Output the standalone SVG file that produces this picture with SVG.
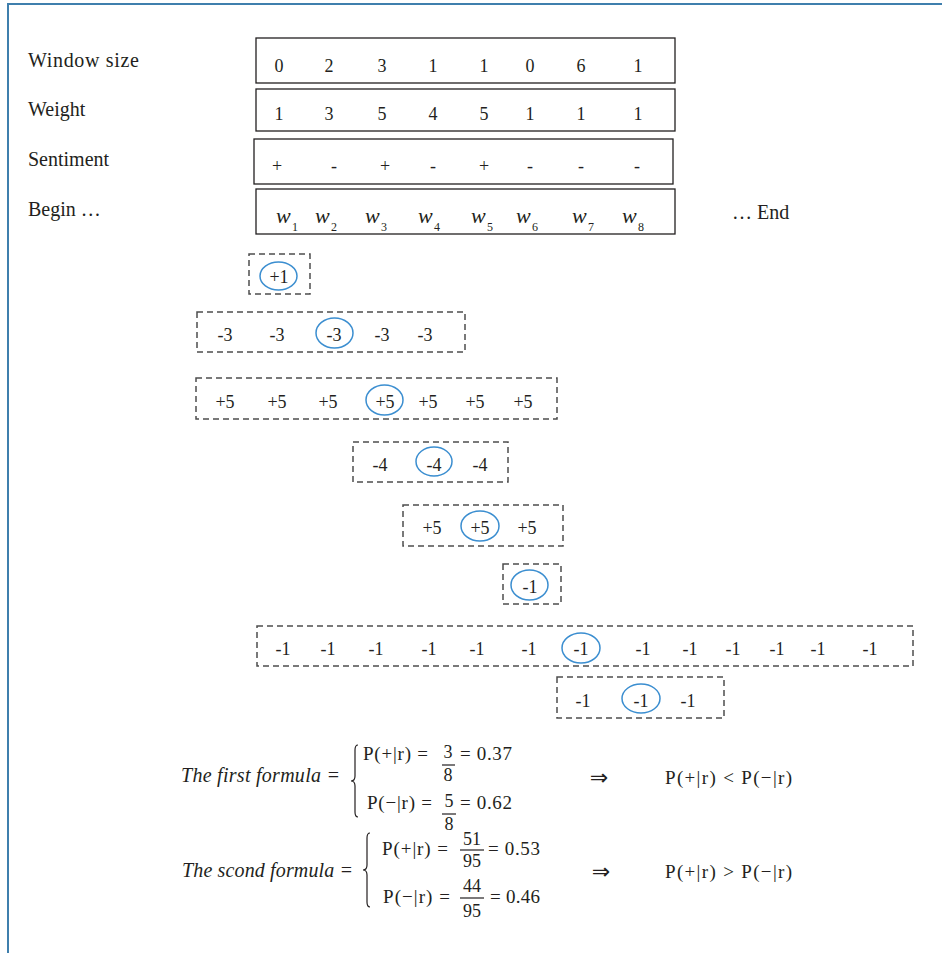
<svg xmlns="http://www.w3.org/2000/svg" width="942" height="953" viewBox="0 0 942 953">
  <style>
    text { font-family: "Liberation Serif", "DejaVu Serif", serif; fill: #231f20; }
    .lbl { font-size: 20px; }
    .cell { font-size: 18px; text-anchor: middle; }
    .w { font-size: 22px; font-style: italic; }
    .sub { font-size: 12px; }
    .box { fill: none; stroke: #231f20; stroke-width: 1.3; }
    .win { fill: none; stroke: #4d4d4d; stroke-width: 1.5; stroke-dasharray: 6 4; }
    .hl { fill: none; stroke: #3b8ed0; stroke-width: 1.5; }
    .fx { font-size: 19px; }
    .fr { font-size: 18px; text-anchor: middle; }
    .it { font-size: 20px; font-style: italic; }
    .arr { font-family: "DejaVu Sans", sans-serif; font-size: 22px; text-anchor: middle; }
    .bar { stroke: #231f20; stroke-width: 1.2; }
    .brace { fill: none; stroke: #231f20; stroke-width: 1.2; }
  </style>

  <!-- page frame -->
  <path id="frame" d="M8,953 V4 H942" fill="none" stroke="#3f7fad" stroke-width="2"/>

  <!-- row labels -->
  <g id="labels">
    <text class="lbl" x="28" y="67" textLength="111" lengthAdjust="spacing">Window size</text>
    <text class="lbl" x="28" y="116">Weight</text>
    <text class="lbl" x="28" y="166">Sentiment</text>
    <text class="lbl" x="28" y="216">Begin …</text>
    <text class="lbl" x="732" y="219">… End</text>
  </g>

  <!-- input table -->
  <g id="row-window">
    <rect class="box" x="256" y="38" width="419" height="45"/>
    <text class="cell" x="279" y="72">0</text>
    <text class="cell" x="329" y="72">2</text>
    <text class="cell" x="382" y="72">3</text>
    <text class="cell" x="433" y="72">1</text>
    <text class="cell" x="484" y="72">1</text>
    <text class="cell" x="530" y="72">0</text>
    <text class="cell" x="581" y="72">6</text>
    <text class="cell" x="638" y="72">1</text>
  </g>
  <g id="row-weight">
    <rect class="box" x="256" y="89" width="419" height="42"/>
    <text class="cell" x="279" y="120">1</text>
    <text class="cell" x="329" y="120">3</text>
    <text class="cell" x="382" y="120">5</text>
    <text class="cell" x="433" y="120">4</text>
    <text class="cell" x="484" y="120">5</text>
    <text class="cell" x="530" y="120">1</text>
    <text class="cell" x="581" y="120">1</text>
    <text class="cell" x="638" y="120">1</text>
  </g>
  <g id="row-sentiment">
    <rect class="box" x="254" y="139" width="419" height="45"/>
    <text class="cell" x="277" y="172">+</text>
    <text class="cell" x="334" y="172">-</text>
    <text class="cell" x="385" y="172">+</text>
    <text class="cell" x="433" y="172">-</text>
    <text class="cell" x="484" y="172">+</text>
    <text class="cell" x="530" y="172">-</text>
    <text class="cell" x="581" y="172">-</text>
    <text class="cell" x="637" y="172">-</text>
  </g>
  <g id="row-words">
    <rect class="box" x="256" y="189" width="419" height="45"/>
    <text class="w" x="276" y="223">w</text><text class="sub" x="292" y="231">1</text>
    <text class="w" x="315" y="223">w</text><text class="sub" x="331" y="231">2</text>
    <text class="w" x="365" y="223">w</text><text class="sub" x="381" y="231">3</text>
    <text class="w" x="418" y="223">w</text><text class="sub" x="434" y="231">4</text>
    <text class="w" x="471" y="223">w</text><text class="sub" x="487" y="231">5</text>
    <text class="w" x="516" y="223">w</text><text class="sub" x="532" y="231">6</text>
    <text class="w" x="572" y="223">w</text><text class="sub" x="588" y="231">7</text>
    <text class="w" x="622" y="223">w</text><text class="sub" x="638" y="231">8</text>
  </g>

  <!-- sliding windows, one per word -->
  <g id="win-1">
    <rect class="win" x="249" y="254" width="61" height="40"/>
    <ellipse class="hl" cx="278.5" cy="276" rx="18.5" ry="14"/>
    <text class="cell" x="279" y="283">+1</text>
  </g>
  <g id="win-2">
    <rect class="win" x="197" y="312" width="268" height="40"/>
    <ellipse class="hl" cx="334.5" cy="333" rx="18.5" ry="15"/>
    <text class="cell" x="225" y="341">-3</text>
    <text class="cell" x="277" y="341">-3</text>
    <text class="cell" x="334" y="341">-3</text>
    <text class="cell" x="382" y="341">-3</text>
    <text class="cell" x="425" y="341">-3</text>
  </g>
  <g id="win-3">
    <rect class="win" x="196" y="378" width="361" height="41"/>
    <ellipse class="hl" cx="384.5" cy="400" rx="18.5" ry="15"/>
    <text class="cell" x="225" y="408">+5</text>
    <text class="cell" x="277" y="408">+5</text>
    <text class="cell" x="328" y="408">+5</text>
    <text class="cell" x="385" y="408">+5</text>
    <text class="cell" x="428" y="408">+5</text>
    <text class="cell" x="475" y="408">+5</text>
    <text class="cell" x="523" y="408">+5</text>
  </g>
  <g id="win-4">
    <rect class="win" x="353" y="442" width="155" height="40"/>
    <ellipse class="hl" cx="434" cy="461.5" rx="18" ry="14.5"/>
    <text class="cell" x="380" y="471">-4</text>
    <text class="cell" x="434" y="471">-4</text>
    <text class="cell" x="480" y="471">-4</text>
  </g>
  <g id="win-5">
    <rect class="win" x="403" y="505" width="160" height="41"/>
    <ellipse class="hl" cx="480" cy="526" rx="19" ry="15"/>
    <text class="cell" x="432" y="534">+5</text>
    <text class="cell" x="480" y="534">+5</text>
    <text class="cell" x="527" y="534">+5</text>
  </g>
  <g id="win-6">
    <rect class="win" x="503" y="564" width="58" height="40"/>
    <ellipse class="hl" cx="529.5" cy="585" rx="18.5" ry="15"/>
    <text class="cell" x="530" y="593">-1</text>
  </g>
  <g id="win-7">
    <rect class="win" x="257" y="626" width="656" height="40"/>
    <ellipse class="hl" cx="581" cy="648" rx="19" ry="15"/>
    <text class="cell" x="283" y="655">-1</text>
    <text class="cell" x="328" y="655">-1</text>
    <text class="cell" x="376" y="655">-1</text>
    <text class="cell" x="429" y="655">-1</text>
    <text class="cell" x="477" y="655">-1</text>
    <text class="cell" x="529" y="655">-1</text>
    <text class="cell" x="581" y="655">-1</text>
    <text class="cell" x="643" y="655">-1</text>
    <text class="cell" x="690" y="655">-1</text>
    <text class="cell" x="733" y="655">-1</text>
    <text class="cell" x="777" y="655">-1</text>
    <text class="cell" x="818" y="655">-1</text>
    <text class="cell" x="870" y="655">-1</text>
  </g>
  <g id="win-8">
    <rect class="win" x="557" y="677" width="167" height="41"/>
    <ellipse class="hl" cx="641" cy="698.5" rx="19" ry="14.5"/>
    <text class="cell" x="583" y="707">-1</text>
    <text class="cell" x="641" y="707">-1</text>
    <text class="cell" x="688" y="707">-1</text>
  </g>

  <g id="connectors"/>

  <!-- first formula -->
  <g id="formula-1">
    <text class="it" x="181" y="782" textLength="159" lengthAdjust="spacing">The first formula =</text>
    <path class="brace" d="M358,745 Q355,745 355,750 V776 Q355,781 351,781 Q355,781 355,786 V812 Q355,817 358,817"/>
    <text class="fx" x="363" y="760" textLength="65" lengthAdjust="spacing">P(+|r) =</text>
    <text class="fr" x="448" y="758">3</text>
    <line class="bar" x1="442" y1="765" x2="455" y2="765"/>
    <text class="fr" x="448" y="781">8</text>
    <text class="fx" x="460" y="760" textLength="52" lengthAdjust="spacing">= 0.37</text>
    <text class="fx" x="367" y="809" textLength="65" lengthAdjust="spacing">P(−|r) =</text>
    <text class="fr" x="449" y="807">5</text>
    <line class="bar" x1="442" y1="814" x2="456" y2="814"/>
    <text class="fr" x="449" y="830">8</text>
    <text class="fx" x="460" y="809" textLength="52" lengthAdjust="spacing">= 0.62</text>
    <text class="arr" x="599" y="785">⇒</text>
    <text class="fx" x="665" y="784" textLength="127" lengthAdjust="spacing">P(+|r) &lt; P(−|r)</text>
  </g>

  <!-- second formula -->
  <g id="formula-2">
    <text class="it" x="182" y="877" textLength="171" lengthAdjust="spacing">The scond formula =</text>
    <path class="brace" d="M370,833 Q367,833 367,838 V865 Q367,870 363,870 Q367,870 367,875 V902 Q367,907 370,907"/>
    <text class="fx" x="382" y="855" textLength="66" lengthAdjust="spacing">P(+|r) =</text>
    <text class="fr" x="472" y="845">51</text>
    <line class="bar" x1="460" y1="850" x2="484" y2="850"/>
    <text class="fr" x="472" y="867">95</text>
    <text class="fx" x="488" y="855" textLength="52" lengthAdjust="spacing">= 0.53</text>
    <text class="fx" x="383" y="903" textLength="67" lengthAdjust="spacing">P(−|r) =</text>
    <text class="fr" x="472" y="892">44</text>
    <line class="bar" x1="460" y1="898" x2="484" y2="898"/>
    <text class="fr" x="472" y="917">95</text>
    <text class="fx" x="490" y="903" textLength="50" lengthAdjust="spacing">= 0.46</text>
    <text class="arr" x="601" y="879">⇒</text>
    <text class="fx" x="665" y="878" textLength="127" lengthAdjust="spacing">P(+|r) &gt; P(−|r)</text>
  </g>
</svg>
